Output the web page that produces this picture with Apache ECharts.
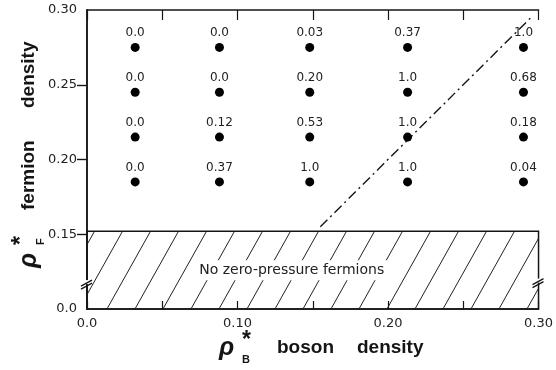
<!DOCTYPE html>
<html lang="en">
<head>
    <meta charset="UTF-8">
    <title>fermion / boson density</title>
    <style>
        html, body { margin: 0; padding: 0; background: #fff; }
        #main { width: 556px; height: 370px; }
    </style>
</head>
<body>
<div id="main"></div>
<script src="https://cdn.jsdelivr.net/npm/echarts@6/dist/echarts.min.js"></script>
<script>
    // grid points (boson density, fermion density)
    const bosonX = [0.032, 0.088, 0.148, 0.213, 0.290]
    const fermionY = [0.185, 0.215, 0.245, 0.275]
    // value written above each point, one row per fermionY (bottom row first)
    const rowLabels = [
        ['0.0', '0.37', '1.0', '1.0', '0.04'],
        ['0.0', '0.12', '0.53', '1.0', '0.18'],
        ['0.0', '0.0', '0.20', '1.0', '0.68'],
        ['0.0', '0.0', '0.03', '0.37', '1.0']
    ]
    // dash-dot boundary
    const lineX = [0.155, 0.296]
    const lineY = [0.155, 0.296]
    // hatched region top (bottom of the axis is the break, shown as 0.0)
    const hatchTop = 0.152
    const yBottom = 0.10
    const xTickVals = [0, 0.1, 0.2, 0.3]
    const xTickText = ['0.0', '0.10', '0.20', '0.30']
    const yTickVals = [0.10, 0.15, 0.20, 0.25, 0.30]
    const yTickText = ['0.0', '0.15', '0.20', '0.25', '0.30']

    const ink = '#151515'
    const labelFont = 'DejaVu Sans'
    const titleFont = '"Liberation Sans", Arial, sans-serif'

    // diagonal hatch tile
    const tile = document.createElement('canvas')
    tile.width = 28
    tile.height = 50
    let tc = tile.getContext('2d')
    tc.strokeStyle = '#222'
    tc.lineWidth = 1
    for (let k = -1; k <= 1; k++) {
        tc.beginPath()
        tc.moveTo(k * 28, 50)
        tc.lineTo(k * 28 + 28, 0)
        tc.stroke()
    }

    let points = []
    fermionY.forEach((y, r) => {
        bosonX.forEach((x, c) => {
            points.push([x, y, rowLabels[r][c]])
        })
    })

    function pick(vals, texts, v) {
        let i = vals.findIndex(t => Math.abs(t - v) < 1e-6)
        return i < 0 ? '' : texts[i]
    }

    let myChart = echarts.init(document.querySelector('#main'))
    let option = {
        backgroundColor: '#fff',
        animation: false,
        grid: {left: 87, right: 14, top: 10, bottom: 61},
        xAxis: [
            {
                type: 'value', position: 'bottom', min: 0, max: 0.3, interval: 0.05,
                axisLine: {lineStyle: {color: ink, width: 1.5}},
                axisTick: {inside: true, length: 8, lineStyle: {color: ink, width: 1.2}},
                axisLabel: {
                    color: '#222', fontFamily: labelFont, fontSize: 13, margin: 8,
                    formatter: v => pick(xTickVals, xTickText, v)
                },
                splitLine: {show: false}
            },
            {
                type: 'value', position: 'top', min: 0, max: 0.3, interval: 0.05,
                axisLine: {lineStyle: {color: ink, width: 1.5}},
                axisTick: {inside: true, length: 10, lineStyle: {color: ink, width: 1.2}},
                axisLabel: {show: false},
                splitLine: {show: false}
            }
        ],
        yAxis: [
            {
                type: 'value', position: 'left', min: yBottom, max: 0.3, interval: 0.05,
                axisLine: {lineStyle: {color: ink, width: 1.5}},
                axisTick: {
                    inside: false, length: 10, customValues: [0.15, 0.20, 0.25],
                    lineStyle: {color: ink, width: 1.2}
                },
                axisLabel: {
                    color: '#222', fontFamily: labelFont, fontSize: 13, margin: 10,
                    customValues: yTickVals,
                    formatter: v => pick(yTickVals, yTickText, v)
                },
                splitLine: {show: false}
            },
            {
                type: 'value', position: 'right', min: yBottom, max: 0.3, interval: 0.05,
                axisLine: {lineStyle: {color: ink, width: 1.5}},
                axisTick: {
                    inside: true, length: 10, customValues: [0.15, 0.20, 0.25],
                    lineStyle: {color: ink, width: 1.2}
                },
                axisLabel: {show: false},
                splitLine: {show: false}
            }
        ],
        series: [
            {
                type: 'line',
                data: lineX.map((x, i) => [x, lineY[i]]),
                showSymbol: false,
                symbol: 'none',
                lineStyle: {color: ink, width: 1.4, type: [10, 4, 2, 4]},
                z: 3,
                markArea: {
                    silent: true,
                    itemStyle: {
                        color: {image: tile, repeat: 'repeat'},
                        borderColor: ink,
                        borderWidth: 1.5
                    },
                    data: [[{coord: [0, yBottom]}, {coord: [0.3, hatchTop]}]]
                }
            },
            {
                type: 'scatter',
                data: points,
                symbolSize: 9,
                itemStyle: {color: '#000', opacity: 1},
                label: {
                    show: true, position: 'top', distance: 4,
                    color: '#222', fontFamily: labelFont, fontSize: 12,
                    formatter: p => p.data[2]
                },
                z: 4
            }
        ]
    }
    myChart.setOption(option)

    // axis breaks, region text and axis titles
    let left = myChart.convertToPixel({gridIndex: 0}, [0, 0.116])
    let right = myChart.convertToPixel({gridIndex: 0}, [0.3, 0.117])
    let txt = myChart.convertToPixel({gridIndex: 0}, [0.136, 0.126])

    function breakMark(p) {
        return [
            {type: 'rect', shape: {x: p[0] - 3, y: p[1] - 5, width: 6, height: 4}, style: {fill: '#fff'}, z: 50},
            {type: 'line', shape: {x1: p[0] - 6, y1: p[1] + 1, x2: p[0] + 5, y2: p[1] - 5}, style: {stroke: ink, lineWidth: 1.3}, z: 51},
            {type: 'line', shape: {x1: p[0] - 6, y1: p[1] + 4, x2: p[0] + 5, y2: p[1] - 2}, style: {stroke: ink, lineWidth: 1.3}, z: 51}
        ]
    }

    function titleParts(sub, w1, w2, w2x) {
        const f = 'bold 19px ' + titleFont
        return [
            {type: 'text', x: 0, y: 0, style: {text: 'ρ', font: 'italic bold 25px ' + titleFont, fill: ink, verticalAlign: 'middle'}},
            {type: 'text', x: 23, y: 12, style: {text: sub, font: 'bold 11px ' + titleFont, fill: ink, verticalAlign: 'middle'}},
            {type: 'text', x: 23, y: -7, style: {text: '*', font: 'bold 23px ' + titleFont, fill: ink, verticalAlign: 'middle'}},
            {type: 'text', x: 58, y: 0, style: {text: w1, font: f, fill: ink, verticalAlign: 'middle'}},
            {type: 'text', x: w2x, y: 0, style: {text: w2, font: f, fill: ink, verticalAlign: 'middle'}}
        ]
    }

    myChart.setOption({
        graphic: [
            ...breakMark(left),
            ...breakMark(right),
            {
                type: 'text', x: txt[0], y: txt[1], z: 50,
                style: {
                    text: 'No zero-pressure fermions', font: '14px ' + labelFont, fill: '#222',
                    align: 'center', verticalAlign: 'middle',
                    backgroundColor: '#fff', padding: [3, 4]
                }
            },
            {type: 'group', x: 219, y: 348, children: titleParts('B', 'boson', 'density', 138)},
            {type: 'group', x: 29, y: 268, rotation: Math.PI / 2, children: titleParts('F', 'fermion', 'density', 160)}
        ]
    })
</script>
</body>
</html>
